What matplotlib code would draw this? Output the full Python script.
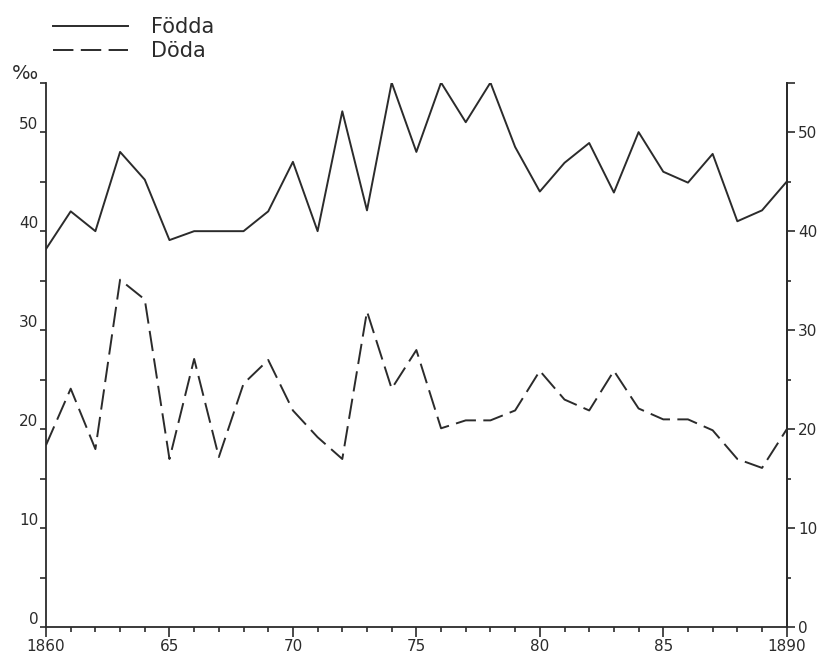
import numpy as np
import matplotlib
matplotlib.use("Agg")
import matplotlib.pyplot as plt
from matplotlib.ticker import MultipleLocator

# data (per mille)
years = list(range(1860, 1891))
fodda = [38.2, 42.0, 40.0, 48.0, 45.2, 39.1, 40.0, 40.0, 40.0, 42.0,
         47.0, 40.0, 52.1, 42.1, 55.0, 48.0, 55.0, 51.0, 55.0, 48.5,
         44.0, 46.9, 48.9, 43.9, 50.0, 46.0, 44.9, 47.8, 41.0, 42.1, 45.0]
doda = [18.4, 24.1, 18.0, 35.1, 33.1, 17.0, 27.1, 17.2, 24.6, 27.0,
        21.9, 19.2, 17.0, 31.9, 24.1, 28.0, 20.1, 20.9, 20.9, 21.9,
        25.9, 23.0, 21.9, 25.9, 22.1, 21.0, 21.0, 19.9, 17.0, 16.1, 20.0]

xticks = [1860, 1865, 1870, 1875, 1880, 1885, 1890]
xticklabels = ['1860', '65', '70', '75', '80', '85', '1890']
left_ticks = [0, 10, 20, 30, 40, 50, 55]
left_labels = ['0', '10', '20', '30', '40', '50', '‰']
right_ticks = [0, 10, 20, 30, 40, 50, 55]
right_labels = ['0', '10', '20', '30', '40', '50', '']

ink = '#2b2b2b'
plt.rcParams['font.family'] = ['DejaVu Sans']

fig = plt.figure(figsize=(8.29, 6.58), dpi=100)
ax = fig.add_axes([0.0555, 0.0465, 0.8935, 0.828])

ax.plot(years, fodda, color=ink, lw=1.4, label='Födda')
ax.plot(years, doda, color=ink, lw=1.4, dashes=(10.5, 3.8), label='Döda')

ax.set_xlim(1860, 1890)
ax.set_ylim(0, 55)
for s in ['left', 'right', 'bottom']:
    ax.spines[s].set_color(ink)
    ax.spines[s].set_linewidth(1.3)
ax.spines['top'].set_visible(False)

ax.set_xticks(xticks)
ax.set_xticklabels(xticklabels, fontsize=11, color=ink)
ax.xaxis.set_minor_locator(MultipleLocator(1))
ax.tick_params(axis='x', which='major', direction='out', length=7, width=1.2, color=ink, pad=1)
ax.tick_params(axis='x', which='minor', direction='out', length=3.5, width=1.2, color=ink)

ax.set_yticks(left_ticks)
ax.set_yticklabels(left_labels, fontsize=11, color=ink)
ax.yaxis.set_minor_locator(MultipleLocator(5))
ax.tick_params(axis='y', which='both', direction='out', length=4.5, width=1.2, color=ink, pad=1)
for lab in ax.get_yticklabels():
    lab.set_va('bottom')
ax.get_yticklabels()[-1].set_fontsize(14)

ax2 = ax.twinx()
ax2.set_ylim(0, 55)
for s in ['left', 'top', 'bottom']:
    ax2.spines[s].set_visible(False)
ax2.spines['right'].set_color(ink)
ax2.spines['right'].set_linewidth(1.3)
ax2.set_yticks(right_ticks)
ax2.set_yticklabels(right_labels, fontsize=11, color=ink)
ax2.yaxis.set_minor_locator(MultipleLocator(5))
ax2.tick_params(axis='y', which='major', direction='out', length=6, width=1.2, color=ink, pad=2)
ax2.tick_params(axis='y', which='minor', direction='out', length=3, width=1.2, color=ink)
for lab in ax2.get_yticklabels():
    lab.set_va('center_baseline')

leg = fig.legend(loc='upper left', bbox_to_anchor=(0.046, 0.996), frameon=False,
                 fontsize=15, handlelength=3.6, handletextpad=1.1, labelspacing=0.2,
                 borderaxespad=0.3)
for t in leg.get_texts():
    t.set_color(ink)

fig.savefig('out.png', dpi=100, facecolor='white')
